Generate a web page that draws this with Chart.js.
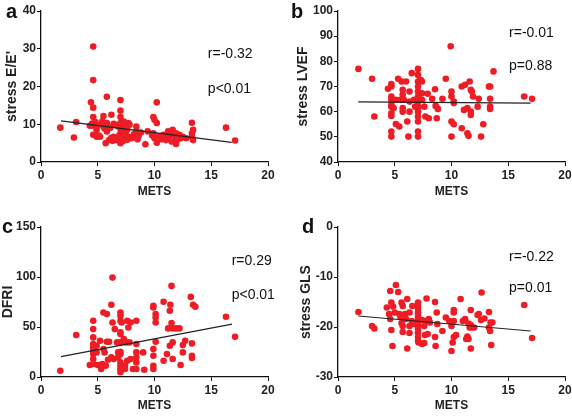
<!DOCTYPE html>
<html>
<head>
<meta charset="utf-8">
<script src="https://cdn.jsdelivr.net/npm/chart.js@4.4.1/dist/chart.umd.min.js"></script>
<style>
  html, body { margin: 0; padding: 0; background: #fff; width: 572px; height: 416px; overflow: hidden; }
  .panel { position: absolute; }
</style>
</head>
<body>
<div class="panel" style="left:0;top:0;width:286px;height:210px"><canvas id="chartA"></canvas></div>
<div class="panel" style="left:286px;top:0;width:296px;height:210px"><canvas id="chartB"></canvas></div>
<div class="panel" style="left:0;top:206px;width:286px;height:210px"><canvas id="chartC"></canvas></div>
<div class="panel" style="left:286px;top:206px;width:296px;height:210px"><canvas id="chartD"></canvas></div>
<script>
const FONT = 'Arial, "Liberation Sans", Helvetica, sans-serif';
const RED = '#ee1c24';

// x ticks shared by all panels
const metsTicks = [0, 5, 10, 15, 20];

// a: stress E/E'
const metsA = [1.7, 2.9, 3.1, 4.3, 4.5, 4.6, 4.6, 4.4, 4.6, 4.6, 4.6, 4.6, 4.8, 4.9, 4.9, 5.0, 5.1, 5.2, 5.3, 5.4,
  5.5, 5.5, 5.6, 5.7, 5.8, 5.8, 5.8, 5.9, 6.0, 6.1, 6.2, 6.2, 6.3, 6.4, 6.4, 6.6, 6.6, 6.8, 6.9, 7.0,
  7.0, 7.0, 7.0, 7.0, 7.0, 7.0, 7.0, 7.1, 7.2, 7.2, 7.3, 7.4, 7.4, 7.5, 7.6, 7.6, 7.7, 7.8, 7.8, 8.0,
  8.2, 8.4, 8.4, 8.5, 8.6, 8.8, 9.2, 9.4, 9.8, 9.9, 9.9, 10.0, 10.0, 10.2, 10.2, 10.2, 10.4, 10.6, 10.8, 11.0,
  11.2, 11.3, 11.4, 11.5, 11.6, 11.6, 11.8, 11.9, 11.9, 12.0, 12.2, 12.3, 12.5, 12.8, 13.3, 13.3, 13.3, 13.4, 13.4, 16.3, 17.1];
const eeA = [9.1, 6.5, 10.6, 9.6, 10.2, 30.6, 21.7, 15.8, 14.4, 11.9, 9.6, 7.2, 10.6, 8.5, 6.7, 9.8, 7.0, 6.7, 10.0, 10.8,
  9.4, 12.2, 8.9, 5.0, 17.3, 10.3, 8.1, 9.3, 5.8, 9.1, 12.5, 6.4, 5.6, 10.1, 6.7, 5.8, 9.8, 9.4, 7.0, 16.4,
  13.6, 11.9, 10.3, 8.9, 7.6, 6.3, 5.0, 8.0, 5.5, 9.6, 10.7, 9.4, 6.9, 8.1, 5.9, 8.6, 10.3, 6.7, 9.9, 6.3,
  7.4, 9.4, 8.1, 6.0, 6.9, 7.8, 4.7, 8.1, 7.0, 11.9, 7.6, 11.2, 6.3, 15.8, 10.3, 5.1, 6.8, 6.0, 7.2, 5.8,
  8.1, 6.9, 7.4, 5.4, 8.1, 8.5, 6.9, 4.8, 7.6, 5.9, 7.2, 6.3, 6.7, 6.3, 10.4, 7.6, 6.7, 8.5, 5.8, 9.1, 5.7];
const fitXA = [1.76, 16.8];
const fitYA = [10.9, 5.2];

// b: stress LVEF
const metsB = [1.8, 3.0, 3.2, 4.4, 4.7, 4.7, 4.7, 4.7, 4.7, 4.7, 4.7, 4.7, 4.7, 4.7, 4.9, 5.1, 5.1, 5.3, 5.4, 5.5,
  5.6, 5.7, 5.7, 5.7, 5.7, 5.8, 6.0, 6.1, 6.2, 6.3, 6.3, 6.3, 6.5, 6.7, 6.8, 7.05, 7.05, 7.05, 7.05, 7.05,
  7.05, 7.05, 7.05, 7.05, 7.05, 7.05, 7.05, 7.05, 7.3, 7.4, 7.4, 7.4, 7.6, 7.7, 7.9, 8.0, 8.3, 8.55, 8.6, 8.7,
  8.8, 9.2, 9.5, 9.93, 10.0, 10.0, 10.2, 10.2, 10.0, 10.2, 10.0, 10.9, 10.9, 11.2, 11.1, 11.4, 11.4, 11.5, 11.6, 11.7,
  11.8, 11.7, 11.7, 11.9, 12.3, 12.4, 12.6, 12.8, 13.3, 13.4, 13.4, 13.4, 13.4, 13.7, 16.4, 17.1];
const lvefB = [77.0, 73.1, 58.1, 69.1, 71.0, 70.0, 66.0, 64.7, 62.7, 62.0, 59.4, 58.3, 52.1, 50.1, 61.4, 64.7, 55.1, 73.1, 54.1, 64.7,
  72.0, 68.7, 66.7, 61.4, 60.0, 64.7, 72.0, 56.1, 50.1, 68.0, 60.0, 64.0, 75.3, 64.7, 62.0, 77.0, 74.6, 72.0, 70.0, 68.0,
  66.0, 64.0, 62.0, 60.0, 58.1, 56.1, 52.1, 50.1, 72.6, 72.0, 67.3, 64.7, 62.0, 58.1, 67.1, 57.4, 65.1, 68.9, 62.3, 57.4,
  61.1, 65.1, 73.1, 86.0, 68.0, 66.0, 64.0, 63.4, 56.1, 55.0, 50.1, 70.0, 53.4, 70.7, 60.7, 61.4, 51.4, 50.4, 72.0, 68.7,
  68.0, 60.0, 58.7, 66.0, 62.0, 65.1, 50.1, 55.0, 70.0, 70.0, 65.1, 62.0, 61.1, 76.0, 66.0, 65.1];
const fitXB = [1.79, 16.97];
const fitYB = [63.9, 63.4];

// c: DFRI
const metsC = [1.7, 3.1, 4.3, 4.6, 4.6, 4.6, 4.6, 4.6, 4.6, 4.6, 4.6, 4.6, 4.9, 4.9, 5.0, 5.2, 5.3, 5.4, 5.5, 5.5,
  5.6, 5.7, 5.8, 5.8, 5.9, 6.0, 6.2, 6.2, 6.3, 6.3, 6.4, 6.5, 6.7, 6.8, 6.8, 7.0, 7.0, 7.0, 7.0, 7.0,
  7.0, 7.0, 7.0, 7.0, 7.0, 7.0, 7.0, 7.1, 7.3, 7.4, 7.4, 7.5, 7.6, 7.7, 7.6, 7.8, 7.9, 7.9, 8.1, 8.4,
  8.4, 8.4, 8.4, 8.4, 8.4, 9.0, 9.1, 9.9, 9.9, 9.9, 9.9, 9.9, 9.9, 10.1, 10.1, 10.1, 10.1, 10.8, 10.8, 11.1,
  11.2, 11.35, 11.35, 11.4, 11.5, 11.5, 11.6, 11.9, 12.2, 11.6, 11.6, 12.3, 12.5, 12.5, 12.7, 13.2, 13.3, 13.3, 13.3, 13.4,
  13.6, 16.3, 17.1];
const dfriC = [6.3, 41.9, 12.0, 56.2, 47.9, 39.6, 32.9, 29.6, 25.6, 22.9, 18.0, 13.0, 31.3, 24.6, 12.0, 36.2, 8.0, 13.0, 64.5, 28.0,
  24.6, 11.3, 62.9, 35.3, 17.3, 35.3, 72.2, 19.6, 99.4, 54.5, 18.0, 47.9, 34.6, 24.6, 19.6, 64.5, 61.2, 56.2, 44.6, 42.9,
  34.6, 25.3, 22.9, 14.6, 11.3, 8.0, 4.7, 54.5, 37.9, 11.3, 8.0, 34.6, 56.2, 49.5, 16.3, 34.6, 54.5, 18.0, 8.0, 56.2,
  32.9, 24.6, 19.6, 14.6, 8.0, 24.6, 7.3, 71.2, 69.5, 27.9, 21.3, 11.3, 8.0, 62.9, 59.5, 54.5, 35.3, 75.2, 16.3, 22.9,
  48.6, 66.2, 31.3, 72.2, 91.1, 53.9, 48.6, 48.6, 48.6, 34.6, 18.0, 12.0, 24.6, 31.9, 36.2, 80.1, 33.6, 21.3, 19.0, 72.2,
  70.2, 60.2, 40.2];
const fitXC = [1.76, 16.83];
const fitYC = [20.3, 52.9];

// d: stress GLS
const metsD = [1.8, 3.0, 3.2, 4.3, 4.5, 4.6, 4.6, 4.7, 4.7, 4.8, 4.85, 5.0, 5.1, 5.3, 5.4, 5.5, 5.6, 5.7, 5.6, 5.7,
  5.7, 5.9, 6.0, 6.1, 6.1, 6.3, 6.3, 6.3, 6.55, 6.5, 6.7, 7.05, 7.05, 7.05, 7.05, 7.05, 7.05, 7.05, 7.05, 7.05,
  7.05, 7.05, 7.05, 7.1, 7.4, 7.6, 7.4, 7.6, 7.7, 7.67, 7.8, 7.9, 8.0, 8.1, 8.55, 8.55, 8.6, 8.7, 8.75, 9.2,
  9.5, 9.8, 10.0, 10.1, 10.0, 10.2, 10.2, 10.2, 10.2, 10.4, 10.8, 11.0, 11.2, 11.3, 11.4, 11.5, 11.5, 11.6, 11.7, 11.7,
  11.7, 11.8, 12.0, 12.3, 12.4, 12.6, 12.9, 12.65, 13.3, 13.3, 13.4, 13.45, 13.6, 13.5, 16.4, 17.1];
const glsD = [-17.0, -19.8, -20.3, -16.1, -17.4, -18.4, -12.8, -15.1, -20.6, -23.8, -15.9, -17.1, -11.6, -13.0, -17.4, -18.0, -15.1, -15.8, -19.2, -19.8,
  -21.0, -17.4, -18.4, -14.4, -24.3, -17.1, -19.8, -21.2, -15.8, -18.8, -19.4, -15.1, -15.8, -16.4, -17.1, -17.8, -18.4, -19.1, -19.6, -20.4,
  -21.1, -22.0, -22.8, -23.1, -23.4, -23.2, -18.6, -19.8, -18.8, -21.6, -14.3, -21.4, -18.4, -19.1, -15.0, -22.0, -23.8, -17.1, -19.4, -20.8,
  -18.1, -18.8, -19.8, -23.1, -24.8, -16.6, -17.1, -18.8, -22.0, -21.6, -14.4, -18.8, -18.4, -22.4, -21.9, -22.4, -19.3, -20.1, -19.6, -16.6,
  -24.3, -20.1, -20.1, -17.6, -17.4, -18.6, -18.3, -13.1, -17.0, -20.1, -20.8, -19.1, -19.1, -23.6, -15.6, -22.2];
const fitXD = [1.79, 16.97];
const fitYD = [-17.8, -20.8];

// writes the panel letter and the r / p values
const panelText = {
  id: 'panelText',
  afterDraw(chart, args, opts) {
    const { ctx, scales: { x, y } } = chart;
    ctx.save();
    ctx.fillStyle = '#111';
    ctx.textAlign = 'left';
    ctx.textBaseline = 'alphabetic';
    ctx.font = 'bold 20px ' + FONT;
    ctx.fillText(opts.letter, opts.letterX, opts.letterY);
    ctx.font = '14px ' + FONT;
    ctx.textBaseline = 'middle';
    const tx = x.getPixelForValue(opts.at[0]);
    ctx.fillText(opts.r, tx, y.getPixelForValue(opts.at[1]));
    ctx.fillText(opts.p, tx, y.getPixelForValue(opts.at[2]));
    ctx.restore();
  }
};

function makePanel(id, p) {
  const points = p.xs.map((v, i) => ({ x: v, y: p.ys[i] }));
  const fit = p.fx.map((v, i) => ({ x: v, y: p.fy[i] }));
  const axisFont = { family: FONT, size: 12, weight: 'bold' };
  return new Chart(document.getElementById(id), {
    type: 'scatter',
    data: {
      datasets: [{
        data: fit,
        type: 'line',
        showLine: true,
        borderColor: '#222',
        borderWidth: 1.2,
        pointRadius: 0,
        order: 0
      }, {
        data: points,
        backgroundColor: RED,
        borderWidth: 0,
        pointRadius: 3.3,
        order: 1
      }]
    },
    options: {
      responsive: true,
      maintainAspectRatio: false,
      animation: false,
      layout: { padding: { left: 0, top: p.top, right: p.right, bottom: p.bottom } },
      plugins: {
        legend: { display: false },
        tooltip: { enabled: false },
        panelText: p.text
      },
      scales: {
        x: {
          type: 'linear',
          min: 0, max: 20,
          afterBuildTicks: s => { s.ticks = metsTicks.map(v => ({ value: v })); },
          grid: { drawOnChartArea: false, color: '#111', tickLength: 4 },
          border: { color: '#111', width: 1.3 },
          ticks: { color: '#222', font: axisFont, padding: 2, maxRotation: 0 },
          title: { display: true, text: 'METS', color: '#222', font: axisFont, padding: 0 },
          afterFit: s => { s.height = p.xh; }
        },
        y: {
          min: p.ymin, max: p.ymax,
          afterBuildTicks: s => { s.ticks = p.yticks.map(v => ({ value: v })); },
          grid: { drawOnChartArea: false, color: '#111', tickLength: 4 },
          border: { color: '#111', width: 1.3 },
          ticks: { color: '#222', font: axisFont, padding: 1 },
          title: { display: true, text: p.ylabel, color: '#222', font: { family: FONT, size: 14, weight: 'bold' }, padding: { top: p.ytp, bottom: 0 } },
          afterFit: s => { s.width = p.yw; }
        }
      }
    },
    plugins: [panelText]
  });
}

makePanel('chartA', {
  xs: metsA, ys: eeA, fx: fitXA, fy: fitYA,
  ymin: 0, ymax: 40, yticks: [0, 10, 20, 30, 40], ylabel: "stress E/E'",
  top: 11, right: 18, bottom: 11, xh: 37, yw: 41, ytp: 4,
  text: { letter: 'a', letterX: 6, letterY: 18, r: 'r=-0.32', p: 'p<0.01', at: [14.7, 28.6, 19.3] }
});
makePanel('chartB', {
  xs: metsB, ys: lvefB, fx: fitXB, fy: fitYB,
  ymin: 40, ymax: 100, yticks: [40, 50, 60, 70, 80, 90, 100], ylabel: 'stress LVEF',
  top: 11, right: 17, bottom: 11, xh: 37, yw: 52, ytp: 9,
  text: { letter: 'b', letterX: 5, letterY: 18, r: 'r=-0.01', p: 'p=0.88', at: [15.07, 91.3, 78.1] }
});
makePanel('chartC', {
  xs: metsC, ys: dfriC, fx: fitXC, fy: fitYC,
  ymin: 0, ymax: 150, yticks: [0, 50, 100, 150], ylabel: 'DFRI',
  top: 21, right: 18, bottom: 3, xh: 36, yw: 41, ytp: 0,
  text: { letter: 'c', letterX: 2, letterY: 27, r: 'r=0.29', p: 'p<0.01', at: [16.8, 116.2, 81.5] }
});
makePanel('chartD', {
  xs: metsD, ys: glsD, fx: fitXD, fy: fitYD,
  ymin: -30, ymax: 0, yticks: [-30, -20, -10, 0], ylabel: 'stress GLS',
  top: 21, right: 17, bottom: 3, xh: 36, yw: 52, ytp: 12,
  text: { letter: 'd', letterX: 16, letterY: 27, r: 'r=-0.22', p: 'p=0.01', at: [15.07, -6.0, -12.3] }
});
</script>
</body>
</html>
